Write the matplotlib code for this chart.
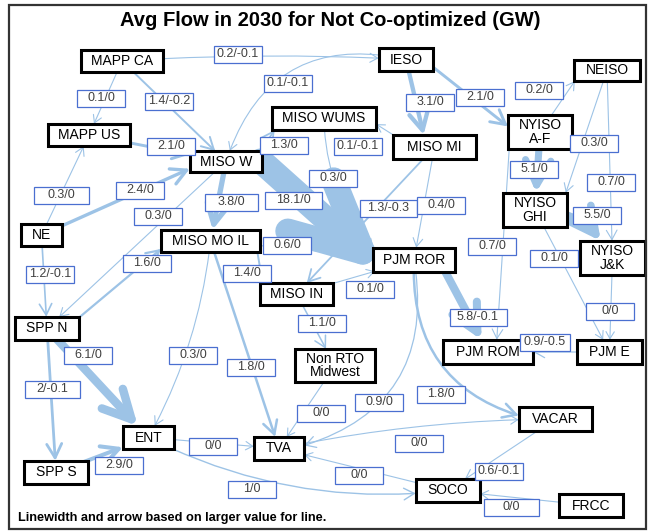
import matplotlib.pyplot as plt
from matplotlib.patches import Rectangle, FancyArrowPatch, ArrowStyle

plt.rcParams['font.family'] = ['Liberation Sans', 'DejaVu Sans']

title = "Avg Flow in 2030 for Not Co-optimized (GW)"
note = "Linewidth and arrow based on larger value for line."

regions = ["MAPP CA", "MAPP US", "NE", "MISO W", "MISO WUMS", "IESO", "MISO MI",
           "NEISO", "NYISO\nA-F", "NYISO\nGHI", "NYISO\nJ&K", "MISO MO IL",
           "PJM ROR", "MISO IN", "SPP N", "Non RTO\nMidwest", "PJM ROM", "PJM E",
           "ENT", "TVA", "SPP S", "VACAR", "SOCO", "FRCC"]

# flows between regions: from -> to, forward / reverse (GW)
flow_from = ["MAPP CA", "IESO", "MAPP CA", "MAPP CA", "MAPP US", "NE", "NE",
             "MISO W", "MISO W", "MISO W", "MISO W", "NE", "SPP N", "MISO WUMS",
             "MISO MI", "IESO", "IESO", "MISO MI", "MISO MI", "MISO MO IL",
             "MISO MO IL", "MISO IN", "MISO MO IL", "MISO MO IL", "MISO IN",
             "Non RTO\nMidwest", "PJM ROR", "PJM ROR", "PJM ROR", "NYISO\nA-F",
             "NYISO\nA-F", "NYISO\nA-F", "NEISO", "NEISO", "NYISO\nGHI",
             "NYISO\nGHI", "NYISO\nJ&K", "PJM E", "SPP N", "SPP N", "SPP S",
             "ENT", "ENT", "SOCO", "TVA", "VACAR", "FRCC"]
flow_to = ["IESO", "MISO W", "MAPP US", "MISO W", "MISO W", "MAPP US", "MISO W",
           "MISO WUMS", "PJM ROR", "MISO MO IL", "SPP N", "SPP N", "MISO MO IL",
           "PJM ROR", "MISO WUMS", "MISO MI", "NYISO\nA-F", "MISO IN", "PJM ROR",
           "PJM ROR", "MISO IN", "PJM ROR", "ENT", "TVA", "Non RTO\nMidwest",
           "TVA", "TVA", "VACAR", "PJM ROM", "PJM ROM", "NYISO\nGHI", "NEISO",
           "NYISO\nGHI", "NYISO\nJ&K", "NYISO\nJ&K", "PJM E", "PJM E", "PJM ROM",
           "ENT", "SPP S", "ENT", "TVA", "SOCO", "TVA", "VACAR", "SOCO", "SOCO"]
flow_fwd = [0.2, 0.1, 0.1, 1.4, 2.1, 0.3, 2.4, 1.3, 18.1, 3.8, 0.3, 1.2, 1.6, 0.3,
            0.1, 3.1, 2.1, 1.3, 0.4, 0.6, 1.4, 0.1, 0.3, 1.8, 1.1, 0, 0.9, 1.8,
            5.8, 0.7, 5.1, 0.2, 0.3, 0.7, 5.5, 0.1, 0, 0.9, 6.1, 2, 2.9, 0, 1,
            0, 0, 0.6, 0]
flow_rev = [-0.1, -0.1, 0, -0.2, 0, 0, 0, 0, 0, 0, 0, -0.1, 0, 0,
            -0.1, 0, 0, -0.3, 0, 0, 0, 0, 0, 0, 0, 0, 0, 0,
            -0.1, 0, 0, 0, 0, 0, 0, 0, 0, -0.5, 0, -0.1, 0, 0, 0,
            0, 0, -0.1, 0]

# ---- layout (pixel coordinates of the diagram) ----
node_xy = {"MAPP CA": (122, 61), "MAPP US": (89, 135), "NE": (41.5, 235),
           "MISO W": (226, 161.5), "MISO WUMS": (324, 118.5), "IESO": (406, 59.5),
           "MISO MI": (434.5, 147), "NEISO": (607, 70.5), "NYISO\nA-F": (540, 132),
           "NYISO\nGHI": (535, 210), "NYISO\nJ&K": (612.5, 258),
           "MISO MO IL": (210.5, 241), "PJM ROR": (414, 260), "MISO IN": (296.5, 294),
           "SPP N": (47, 328.5), "Non RTO\nMidwest": (335, 365.5), "PJM ROM": (488, 352),
           "PJM E": (609.5, 352), "ENT": (148.5, 437.5), "TVA": (279, 448.5),
           "SPP S": (56, 472.5), "VACAR": (555.5, 419), "SOCO": (448, 490.5),
           "FRCC": (591, 505.5)}
node_wh = {"MAPP CA": (82, 22), "MAPP US": (82, 22), "NE": (41, 22), "MISO W": (72, 21),
           "MISO WUMS": (104, 23), "IESO": (54, 23), "MISO MI": (83, 24),
           "NEISO": (66, 21), "NYISO\nA-F": (64, 34), "NYISO\nGHI": (64, 34),
           "NYISO\nJ&K": (65, 34), "MISO MO IL": (99, 22), "PJM ROR": (82, 24),
           "MISO IN": (73, 22), "SPP N": (64, 23), "Non RTO\nMidwest": (80, 33),
           "PJM ROM": (90, 24), "PJM E": (65, 24), "ENT": (51, 23), "TVA": (50, 23),
           "SPP S": (64, 23), "VACAR": (73, 24), "SOCO": (64, 23), "FRCC": (64, 23)}

label_xy = [(238, 54), (288, 83), (101, 98), (169, 101), (171, 146), (61, 195),
            (140, 190), (284, 145), (293, 200), (231, 202), (158, 216), (50, 274),
            (147, 263), (333, 178), (358, 146), (430, 102), (480, 97), (388, 208),
            (441, 205), (287, 245), (247, 273), (370, 289), (193, 355), (251, 367),
            (322, 323), (321, 413), (379, 402), (441, 394), (478, 317), (492, 246),
            (534, 169), (539, 90), (594, 143), (611, 182), (597, 215), (554, 258),
            (610, 311), (545, 342), (88, 355), (52, 389), (119, 465), (213, 446),
            (252, 489), (359, 475), (419, 443), (499, 471), (511, 507)]
label_wide = {5: 55, 8: 57, 9: 53, 17: 57, 28: 57, 37: 50, 39: 55, 46: 55}

curve = {0: -0.03, 1: 0.45, 13: 0.2, 22: -0.1, 26: -0.45, 27: 0.4, 34: -0.3,
         42: 0.15, 44: -0.05}
shift = {6: ((0, 0), (-20, 0)), 7: ((30, -4), (-45, 5)), 8: ((26, -8.5), (-30, 11)),
         12: ((25, -5), (-40, 0)), 13: ((0, 0), (-30, 0)), 14: ((-30, -5), (40, -2)),
         15: ((0, 0), (-8, 0)), 16: ((20, 2), (-25, 0)), 20: ((45, 0), (-32, 0)),
         26: ((0, 0), (15, 0)), 27: ((0, 0), (-25, 0)), 28: ((25, 0), (0, 0)),
         29: ((-30, 5), (8, 0)), 31: ((0, 0), (-25, 0)), 32: ((0, 0), (25, 0)),
         34: ((0, 0), (-4, -5))}
unclipped = {8}   # arrow tip placed by hand on the box edge

line_color = '#9dc3e6'
label_edge = '#4a6fd0'

fig = plt.figure(figsize=(6.49, 5.31), dpi=100)
ax = fig.add_axes([0, 0, 1, 1])
ax.set_xlim(0, 649)
ax.set_ylim(531, 0)
ax.axis('off')

boxes = {}
for name in regions:
    x, y = node_xy[name]
    w, h = node_wh[name]
    r = Rectangle((x - w / 2, y - h / 2), w, h, fc='white', ec='black', lw=2.2, zorder=4)
    ax.add_patch(r)
    boxes[name] = r
    ax.text(x, y, name, ha='center', va='center', fontsize=10, color='black',
            linespacing=0.95, zorder=5)

for i in range(len(flow_from)):
    a, b = flow_from[i], flow_to[i]
    v = max(abs(flow_fwd[i]), abs(flow_rev[i]))
    (dxa, dya), (dxb, dyb) = shift.get(i, ((0, 0), (0, 0)))
    pa = (node_xy[a][0] + dxa, node_xy[a][1] + dya)
    pb = (node_xy[b][0] + dxb, node_xy[b][1] + dyb)
    style = ArrowStyle('->', head_length=5 + 2.5 * v, head_width=3 + 1.2 * v)
    arr = FancyArrowPatch(pa, pb, arrowstyle=style,
                          connectionstyle=f"arc3,rad={curve.get(i, 0)}",
                          patchA=boxes[a],
                          patchB=None if i in unclipped else boxes[b],
                          shrinkA=0, shrinkB=0 if i in unclipped else 1,
                          lw=max(0.8, 1.0 * v), color=line_color,
                          capstyle='round', joinstyle='round', zorder=2)
    ax.add_patch(arr)

    lx, ly = label_xy[i]
    lw_box = label_wide.get(i, 48)
    ax.add_patch(Rectangle((lx - lw_box / 2, ly - 8.5), lw_box, 17, fc='white',
                           ec=label_edge, lw=0.9, zorder=6))
    txt = f"{flow_fwd[i]:g}/{flow_rev[i]:g}"
    ax.text(lx, ly, txt, ha='center', va='center', fontsize=9, color='#404040', zorder=7)

ax.add_patch(Rectangle((9, 5), 637, 524, fill=False, ec='#333333', lw=1.6, zorder=8))
ax.text(330, 21, title, ha='center', va='center', fontsize=14.5, fontweight='bold', zorder=8)
ax.text(18, 518, note, ha='left', va='center', fontsize=9.2, fontweight='bold', zorder=8)

fig.savefig('out.png', dpi=100)
